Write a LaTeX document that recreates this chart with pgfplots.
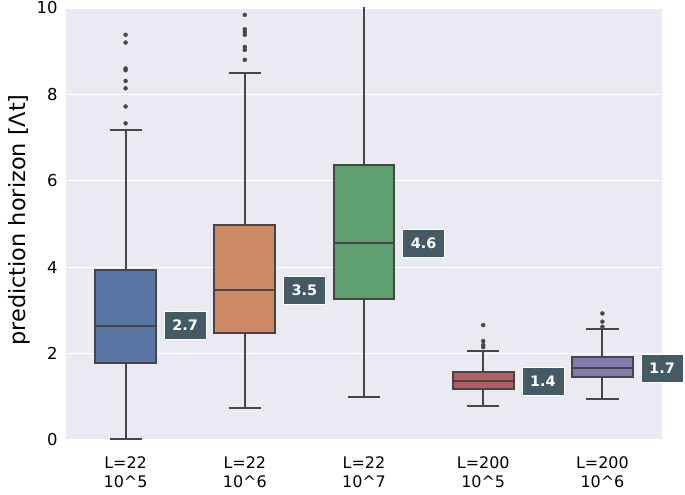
\documentclass[border=0pt]{standalone}
\usepackage{fontspec}
\setmainfont{DejaVu Sans}
\usepackage{pgfplots}
\pgfplotsset{compat=1.18}
\usepgfplotslibrary{statistics}
\definecolor{bg}{HTML}{EAEAF2}
\definecolor{ln}{HTML}{464646}
\definecolor{c1}{HTML}{5875A4}
\definecolor{c2}{HTML}{CC8963}
\definecolor{c3}{HTML}{5F9E6E}
\definecolor{c4}{HTML}{B55D60}
\definecolor{c5}{HTML}{857AAB}
\definecolor{lab}{HTML}{445A64}
\begin{document}
\begin{tikzpicture}
\begin{axis}[
  name=ax,
  scale only axis,
  width=596bp, height=432bp,
  xmin=-0.5, xmax=4.5, ymin=0, ymax=10,
  axis background/.style={fill=bg},
  axis line style={draw=none},
  major tick length=0pt,
  ymajorgrids,
  grid style={white, line width=1.3bp},
  ytick={0,2,4,6,8,10},
  xtick={0,1,2,3,4},
  xticklabels={{L=22\\10\textasciicircum 5},{L=22\\10\textasciicircum 6},{L=22\\10\textasciicircum 7},{L=200\\10\textasciicircum 5},{L=200\\10\textasciicircum 6}},
  xticklabel style={align=center, font=\fontsize{16}{19}\selectfont, yshift=-13bp},
  yticklabel style={font=\fontsize{16.5}{19}\selectfont, xshift=-5bp},
  /pgf/number format/assume math mode=true,
  ylabel={prediction horizon [Λt]},
  ylabel style={font=\fontsize{22.5}{26}\selectfont, xshift=4bp},
  clip mode=individual,
  boxplot/draw direction=y,
  boxplot/box extend=0.51,
  boxplot/whisker extend=0.27,
  bx/.style={draw=ln, line width=2bp, mark=*, mark size=2bp, mark options={fill=ln, draw=ln, line width=0.3bp}},
]
\addplot[bx, fill=c1,
  boxplot prepared={draw position=0, median=2.65, upper quartile=3.94, lower quartile=1.79, upper whisker=7.18, lower whisker=0.02}]
  table[row sep=\\, y index=0] {7.33\\7.72\\8.14\\8.31\\8.56\\8.60\\9.20\\9.38\\};
\addplot[bx, fill=c2,
  boxplot prepared={draw position=1, median=3.47, upper quartile=4.97, lower quartile=2.47, upper whisker=8.49, lower whisker=0.75}]
  table[row sep=\\, y index=0] {8.80\\9.03\\9.10\\9.38\\9.45\\9.51\\9.84\\};
\addplot[bx, fill=c3,
  boxplot prepared={draw position=2, median=4.56, upper quartile=6.37, lower quartile=3.26, upper whisker=11.5, lower whisker=1.00}]
  coordinates {};
\addplot[bx, fill=c4,
  boxplot prepared={draw position=3, median=1.37, upper quartile=1.57, lower quartile=1.18, upper whisker=2.06, lower whisker=0.78}]
  table[row sep=\\, y index=0] {2.15\\2.20\\2.29\\2.66\\};
\addplot[bx, fill=c5,
  boxplot prepared={draw position=4, median=1.66, upper quartile=1.91, lower quartile=1.45, upper whisker=2.56, lower whisker=0.96}]
  table[row sep=\\, y index=0] {2.62\\2.74\\2.93\\};
\tikzset{medlab/.style={fill=lab, draw=white, line width=0.6bp, text=white, font=\fontsize{14.5}{17}\selectfont\bfseries, minimum width=42bp, minimum height=28bp, inner sep=0pt}}
\node[medlab] at (axis cs:0.5,2.65) {2.7};
\node[medlab] at (axis cs:1.5,3.47) {3.5};
\node[medlab] at (axis cs:2.5,4.56) {4.6};
\node[medlab] at (axis cs:3.5,1.37) {1.4};
\node[medlab] at (axis cs:4.5,1.66) {1.7};
\end{axis}
\pgfresetboundingbox
\path[use as bounding box] ([xshift=-66bp,yshift=-54bp]ax.south west) rectangle ([xshift=23bp,yshift=8bp]ax.north east);
\end{tikzpicture}
\end{document}
